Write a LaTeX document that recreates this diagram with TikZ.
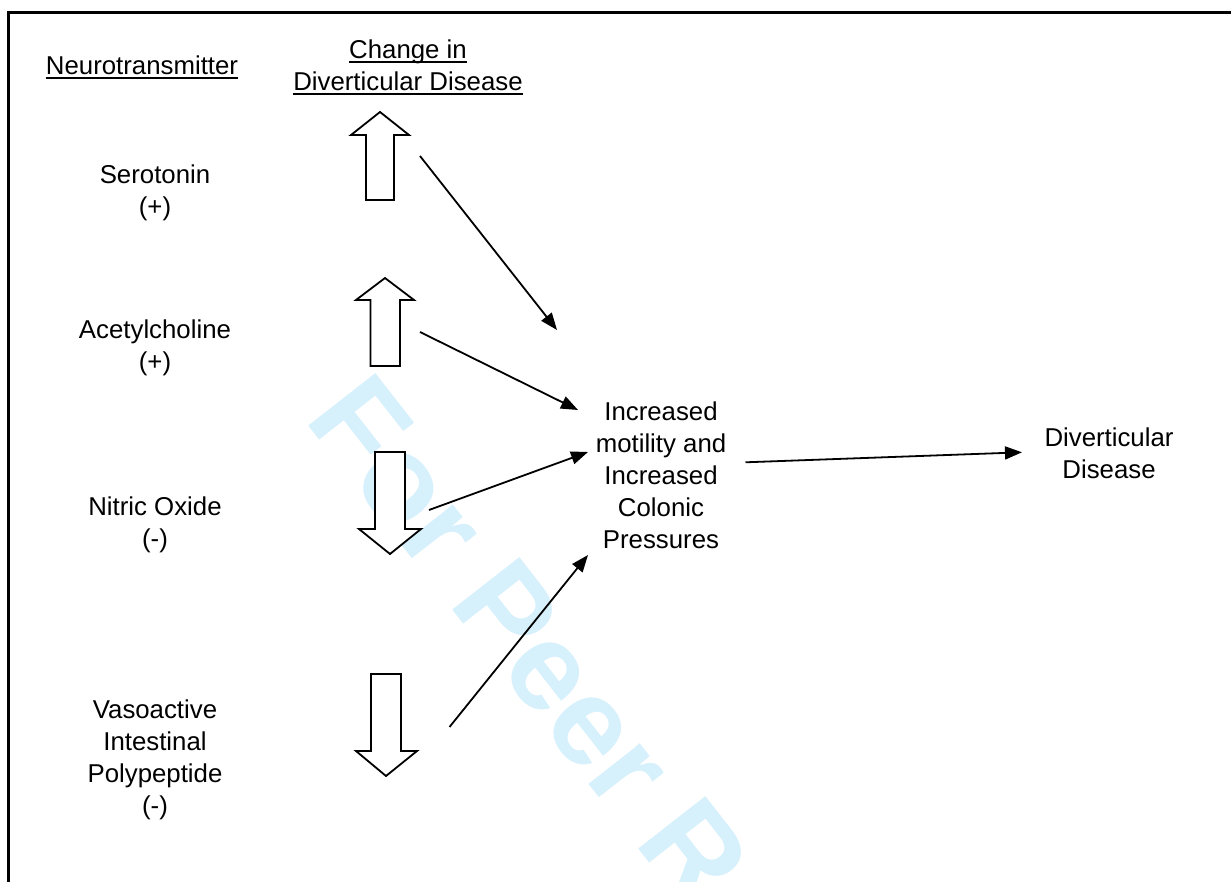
\documentclass[tikz,border=0pt]{standalone}
\usepackage{fontspec}
\setmainfont{Liberation Sans}
\usetikzlibrary{arrows.meta}
\definecolor{wmblue}{RGB}{214,240,252}
\tikzset{
  lbl/.style={align=center, inner sep=0pt, anchor=north, font=\fontsize{25.8}{32}\selectfont},
  hdr/.style={inner sep=0pt, anchor=base, font=\fontsize{25.8}{32}\selectfont},
  uline/.style={line width=1.8pt},
  blockarrow/.style={draw=black, fill=white, line width=1.8pt, line join=miter},
  conn/.style={line width=1.8pt, -{Triangle[length=17pt,width=13pt]}},
  frame/.style={line width=3pt},
}
\begin{document}
\begin{tikzpicture}[x=1pt, y=-1pt]
\useasboundingbox (0,0) rectangle (1231,882);
% watermark
\begin{scope}
\clip (0,0) rectangle (1231,882);
\node[anchor=base west, rotate=-52, inner sep=0pt, text=wmblue,
      font=\fontsize{124}{124}\selectfont\bfseries] (wm) at (303,419) {For Peer Review};
\end{scope}
% frame
\draw[frame] (8.5,882) -- (8.5,13) -- (1231,13);
% headers
\node[hdr] (nt) at (142,74.5) {Neurotransmitter};
\draw[uline] ([yshift=-3.8pt]nt.base west) -- ([yshift=-3.8pt]nt.base east);
\node[hdr] (ch1) at (408,58.5) {Change in};
\draw[uline] ([yshift=-3.8pt]ch1.base west) -- ([yshift=-3.8pt]ch1.base east);
\node[hdr] (ch2) at (408,90.5) {Diverticular Disease};
\draw[uline] ([yshift=-3.8pt]ch2.base west) -- ([yshift=-3.8pt]ch2.base east);
% neurotransmitters
\node[lbl] (ser) at (155,164.5) {Serotonin\\(+)};
\node[lbl] (ach) at (155,319.5) {Acetylcholine\\(+)};
\node[lbl] (no) at (155,497) {Nitric Oxide\\(-)};
\node[lbl] (vip) at (155,700) {Vasoactive\\Intestinal\\Polypeptide\\(-)};
% block arrows
\draw[blockarrow] (380,112) -- (409,135) -- (394,135) -- (394,200) -- (366,200) -- (366,135) -- (351,135) -- cycle;
\draw[blockarrow] (385,278) -- (414,300) -- (400,300) -- (400,366) -- (370.5,366) -- (370.5,300) -- (356,300) -- cycle;
\draw[blockarrow] (390,554) -- (421,529) -- (405,529) -- (405,452) -- (375,452) -- (375,529) -- (359,529) -- cycle;
\draw[blockarrow] (386,776) -- (417,751) -- (401,751) -- (401,674) -- (371,674) -- (371,751) -- (356,751) -- cycle;
% centre and outcome
\node[lbl] (mot) at (661,401.5) {Increased\\motility and\\Increased\\Colonic\\Pressures};
\node[lbl] (dd) at (1109,428) {Diverticular\\Disease};
% connector end points
\coordinate (s1) at (420,156);   \coordinate (t1) at (557,330);
\coordinate (s2) at (420,332);   \coordinate (t2) at (578,410);
\coordinate (s3) at (429,510);   \coordinate (t3) at (588,452);
\coordinate (s4) at (449.5,727); \coordinate (t4) at (588,555);
\coordinate (s5) at (745.5,462.3); \coordinate (t5) at (1022,452.3);
\draw[conn] (s1) -- (t1);
\draw[conn] (s2) -- (t2);
\draw[conn] (s3) -- (t3);
\draw[conn] (s4) -- (t4);
\draw[conn] (s5) -- (t5);
\end{tikzpicture}
\end{document}
